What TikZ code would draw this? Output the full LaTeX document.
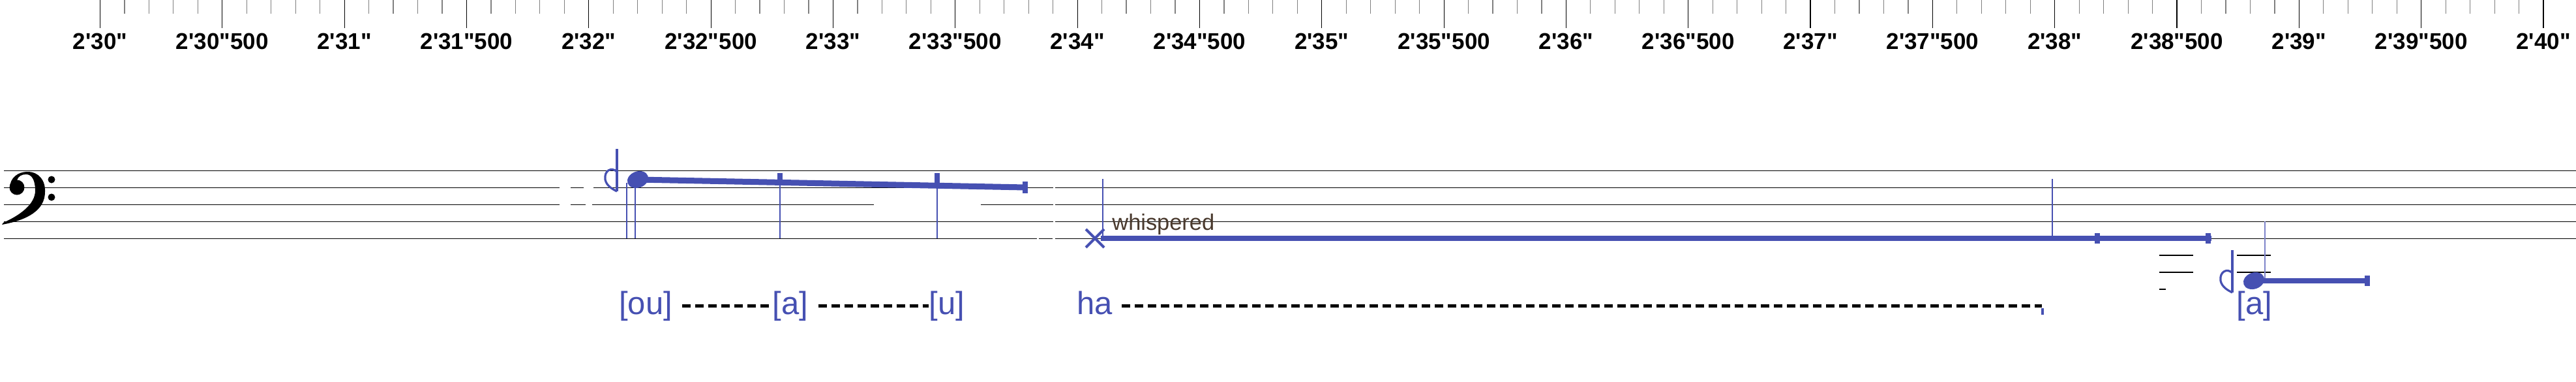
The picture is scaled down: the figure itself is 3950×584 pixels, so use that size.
\documentclass[tikz,border=0pt]{standalone}
\usepackage{fontspec}
\setmainfont{Liberation Sans}
\newfontfamily\rulerfont{Liberation Sans}
\usepackage{tikz}
\usetikzlibrary{shapes.geometric}

\definecolor{noteblue}{RGB}{70,80,178}
\definecolor{notebrown}{RGB}{74,58,46}

\begin{document}
\begin{tikzpicture}[
        x=0.5pt,
        y=-0.5pt,
        staffline/.style={
            draw=black,
            line width=0.75pt
        },
        staffgap/.style={
            draw=white,
            line width=1.6pt
        },
        majortick/.style={
            draw=black,
            line width=0.6pt
        },
        minortick/.style={
            draw=black!50,
            line width=0.6pt
        },
        rulerlabel/.style={
            anchor=base,
            inner sep=0pt,
            font=\rulerfont\bfseries\fontsize{17.5}{20}\selectfont
        },
        notehead/.style={
            ellipse,
            fill=noteblue,
            minimum width=16.5pt,
            minimum height=12.5pt,
            inner sep=0pt,
            rotate=20
        },
        gliss/.style={
            draw=noteblue,
            line width=4.5pt
        },
        glisstick/.style={
            draw=noteblue,
            line width=4.2pt
        },
        stem/.style={
            draw=noteblue,
            line width=0.75pt
        },
        ledger/.style={
            draw=black,
            line width=0.7pt
        },
        extender/.style={
            draw=black,
            line width=2.5pt,
            dash pattern=on 6.5pt off 3.5pt
        },
        syllable/.style={
            anchor=base,
            inner sep=0pt,
            text=noteblue,
            font=\fontsize{24.5}{28}\selectfont
        },
        whisper/.style={
            anchor=base west,
            inner sep=0pt,
            text=notebrown,
            font=\fontsize{17.2}{20}\selectfont
        },
        halfflat/.pic={
            \draw[noteblue, line width=1.6pt] (0,-65) -- (0,0);
            \draw[noteblue, line width=1.6pt] (0,-30) .. controls (-8,-38) and (-20,-32) .. (-18,-18)
                .. controls (-16,-8) and (-6,-3) .. (0,0);
        }
    ]
        \useasboundingbox (0,0) rectangle (3950,584);

        \foreach \i in {0,...,100}
            \draw [minortick] ({153.5+37.465*\i},0) -- ({153.5+37.465*\i},21);
        \foreach \i in {0,...,20}
            \draw [majortick] ({153.5+187.325*\i},0) -- ({153.5+187.325*\i},43);
        \foreach \s [count=\k from 0] in {30,...,40} {
            \node (t\s) [rulerlabel] at ({153.5+374.65*\k},75) {2'\s"};
            \ifnum\s<40
                \node (t\s h) [rulerlabel] at ({153.5+374.65*\k+187.325},75) {2'\s"500};
            \fi
        }

        \foreach \y in {261.5,287.5,313.5,339.5,365.5}
            \draw [staffline] (6,\y) -- (3950,\y);
        \foreach \a/\b/\y in {858/875/287.5, 858/875/313.5, 895/910/287.5, 898/908/313.5,
                1340/1504/313.5, 1590/1593/365.5, 1614/1618/365.5, 1615/1618/287.5,
                1615/1618/313.5, 1615/1618/339.5}
            \draw [staffgap] (\a,\y) -- (\b,\y);

        \fill (15,288) .. controls (15,272) and (28,263) .. (42,263)
            .. controls (60,263) and (70,277) .. (69,294)
            .. controls (69,322) and (42,337) .. (3,344)
            -- (5,341)
            .. controls (30,330) and (54,313) .. (54,292)
            .. controls (54,276) and (49,267) .. (40,267)
            .. controls (33,267) and (28,270) .. (26,276) -- cycle;
        \fill (26,287) circle [radius=11.5];
        \fill (79,275) circle [radius=5.5];
        \fill (79,302) circle [radius=5.5];

        \pic at (946,293) {halfflat};
        \node (n1) [notehead] at (978,275) {};
        \coordinate (g1end) at (1572,287);
        \draw [stem] (961,280) -- (961,365);
        \draw [stem] (974,282) -- (974,365);
        \draw [gliss] (n1.center) -- (g1end);
        \draw [glisstick] (1196,265) -- (1196,283);
        \draw [glisstick] (1437,265) -- (1437,288);
        \draw [glisstick] (1572,278) -- (1572,296);
        \draw [stem, line width=0.55pt] (1196,283) -- (1196,365);
        \draw [stem, line width=0.55pt] (1437,288) -- (1437,365);

        \coordinate (wx) at (1679,365);
        \coordinate (w1end) at (3391,365);
        \draw [stem] (1691,274) -- (1691,365);
        \draw [stem] (3147,274) -- (3147,365);
        \draw [noteblue, line width=2pt] (1665,351) -- (1693,379) (1665,379) -- (1693,351);
        \draw [gliss, line width=4.3pt] (wx) ++(9,0) -- (w1end);
        \draw [glisstick] (3216,357) -- (3216,373);
        \draw [glisstick] (3386,357) -- (3386,373);
        \node (wh) [whisper] at (1705,352) {whispered};

        \draw [ledger] (3311,391) -- (3363,391);
        \draw [ledger] (3311,417) -- (3363,417);
        \draw [ledger] (3311,443) -- (3321,443);
        \draw [ledger] (3430,391) -- (3482,391);
        \draw [ledger] (3430,417) -- (3482,417);
        \pic at (3423,448) {halfflat};
        \draw [stem, draw=noteblue!70] (3473,339) -- (3473,430);
        \node (n2) [notehead] at (3456,430) {};
        \coordinate (g2end) at (3634,430);
        \draw [gliss, line width=3.6pt] (n2.center) -- (g2end);
        \draw [glisstick] (3630,422) -- (3630,438);

        \node (ou) [syllable] at (990,481) {[ou]};
        \node (aa) [syllable] at (1212,481) {[a]};
        \node (uu) [syllable] at (1452,481) {[u]};
        \node (ha) [syllable, anchor=base west] at (1651,481) {ha};
        \node (ab) [syllable] at (3457,481) {[a]};
        \coordinate (haend) at (3131,468);

        \draw [extender] ([shift={(7.5pt,6.5pt)}]ou.base east) -- ([yshift=6.5pt]aa.base west);
        \draw [extender] ([shift={(7.5pt,6.5pt)}]aa.base east) -- ([yshift=6.5pt]uu.base west);
        \draw [extender] ([shift={(7pt,6.5pt)}]ha.base east) -- (haend);
        \fill [noteblue] (3130,472) rectangle (3134,482);

    \end{tikzpicture}
\end{document}
